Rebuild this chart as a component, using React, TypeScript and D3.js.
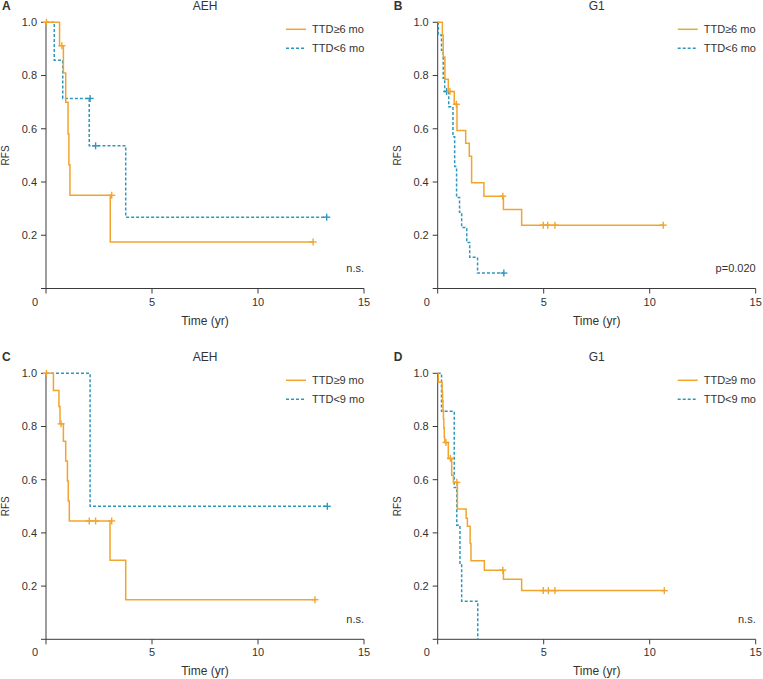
import React from "react";
import * as d3 from "d3";

// ---------- data ----------
const panelLetters = ["A", "B", "C", "D"];
const panelTitles = ["AEH", "G1", "AEH", "G1"];
const statTexts = ["n.s.", "p=0.020", "n.s.", "n.s."];
const legendLongA = "TTD≥6 mo";
const legendShortA = "TTD<6 mo";
const legendLongC = "TTD≥9 mo";
const legendShortC = "TTD<9 mo";
const xTicks = [0, 5, 10, 15];
const yTicks = [0, 0.2, 0.4, 0.6, 0.8, 1.0];

// Panel A
const aLongTimes = [0.64, 0.82, 0.93, 1.04, 1.08, 1.13, 3.03];
const aLongSurv = [0.912, 0.81, 0.7, 0.58, 0.465, 0.35, 0.175];
const aLongCensT = [0.02, 0.75, 3.1, 12.6];
const aLongCensS = [1.0, 0.912, 0.35, 0.175];
const aShortTimes = [0.39, 0.79, 2.04, 3.76];
const aShortSurv = [0.857, 0.714, 0.536, 0.268];
const aShortCensT = [2.08, 2.34, 13.24];
const aShortCensS = [0.714, 0.536, 0.268];

// Panel B
const bLongTimes = [0.22, 0.26, 0.34, 0.5, 0.78, 0.91, 1.32, 1.49, 1.6, 2.18, 3.1, 3.96];
const bLongSurv = [0.952, 0.87, 0.786, 0.74, 0.692, 0.594, 0.546, 0.497, 0.397, 0.347, 0.297, 0.238];
const bLongCensT = [0.58, 0.88, 3.07, 4.98, 5.19, 5.53, 10.64];
const bLongCensS = [0.74, 0.692, 0.347, 0.238, 0.238, 0.238, 0.238];
const bShortTimes = [0.03, 0.18, 0.26, 0.33, 0.52, 0.72, 0.8, 0.89, 1.03, 1.13, 1.37, 1.51, 1.88];
const bShortSurv = [0.952, 0.895, 0.79, 0.74, 0.683, 0.57, 0.458, 0.342, 0.286, 0.229, 0.173, 0.117, 0.058];
const bShortCensT = [0.42, 3.12];
const bShortCensS = [0.74, 0.058];

// Panel C
const cLongTimes = [0.35, 0.61, 0.66, 0.82, 0.93, 1.01, 1.05, 1.1, 3.02, 3.76];
const cLongSurv = [0.935, 0.875, 0.81, 0.745, 0.67, 0.595, 0.52, 0.445, 0.297, 0.149];
const cLongCensT = [0.02, 0.71, 2.04, 2.34, 3.1, 12.69];
const cLongCensS = [1.0, 0.81, 0.445, 0.445, 0.445, 0.149];
const cShortTimes = [2.08];
const cShortSurv = [0.5];
const cShortCensT = [13.27];
const cShortCensS = [0.5];

// Panel D
const dLongTimes = [0.03, 0.21, 0.23, 0.25, 0.27, 0.29, 0.31, 0.33, 0.5, 0.66, 0.74, 0.93, 1.34, 1.4, 1.53, 1.57, 2.2, 3.1, 3.96];
const dLongSurv = [0.966, 0.931, 0.897, 0.862, 0.828, 0.793, 0.759, 0.74, 0.68, 0.617, 0.59, 0.49, 0.455, 0.425, 0.36, 0.295, 0.26, 0.226, 0.183];
const dLongCensT = [0.39, 0.6, 0.9, 3.07, 4.98, 5.22, 5.53, 10.69];
const dLongCensS = [0.74, 0.68, 0.59, 0.26, 0.183, 0.183, 0.183, 0.183];
const dShortTimes = [0.18, 0.78, 0.9, 1.05, 1.13, 1.89];
const dShortSurv = [0.857, 0.571, 0.429, 0.286, 0.143, 0];
const dShortCensT: number[] = [];
const dShortCensS: number[] = [];

// ---------- styling / layout ----------
const ORANGE = "#F2A52E";
const BLUE = "#2F97BE";
const AXIS = "#3a3a3a";
const TEXT = "#333";
const FONT = "'Liberation Sans', Arial, Helvetica, sans-serif";

type Series = { times: number[]; surv: number[]; censT: number[]; censS: number[] };

const panels = [
  {
    left: 46, right: 364, top: 22.3, bottom: 288.5,
    long: { times: aLongTimes, surv: aLongSurv, censT: aLongCensT, censS: aLongCensS },
    short: { times: aShortTimes, surv: aShortSurv, censT: aShortCensT, censS: aShortCensS },
    legend: [legendLongA, legendShortA],
  },
  {
    left: 437.7, right: 755.7, top: 22.3, bottom: 288.5,
    long: { times: bLongTimes, surv: bLongSurv, censT: bLongCensT, censS: bLongCensS },
    short: { times: bShortTimes, surv: bShortSurv, censT: bShortCensT, censS: bShortCensS },
    legend: [legendLongA, legendShortA],
  },
  {
    left: 46, right: 364, top: 373.3, bottom: 639.3,
    long: { times: cLongTimes, surv: cLongSurv, censT: cLongCensT, censS: cLongCensS },
    short: { times: cShortTimes, surv: cShortSurv, censT: cShortCensT, censS: cShortCensS },
    legend: [legendLongC, legendShortC],
  },
  {
    left: 437.7, right: 755.7, top: 373.3, bottom: 639.3,
    long: { times: dLongTimes, surv: dLongSurv, censT: dLongCensT, censS: dLongCensS },
    short: { times: dShortTimes, surv: dShortSurv, censT: dShortCensT, censS: dShortCensS },
    legend: [legendLongC, legendShortC],
  },
];

function stepPoints(s: Series): [number, number][] {
  const pts: [number, number][] = [[0, 1]];
  s.times.forEach((t, i) => pts.push([t, s.surv[i]]));
  const lastT = Math.max(s.times[s.times.length - 1], ...(s.censT.length ? s.censT : [0]));
  pts.push([lastT, s.surv[s.surv.length - 1]]);
  return pts;
}

function Curve({ s, x, y, color, dashed }: { s: Series; x: any; y: any; color: string; dashed: boolean }) {
  const line = d3
    .line<[number, number]>()
    .x((d) => x(d[0]))
    .y((d) => y(d[1]))
    .curve(d3.curveStepAfter);
  const d = line(stepPoints(s)) || "";
  return (
    <g>
      <path d={d} fill="none" stroke={color} strokeWidth={1.5} strokeDasharray={dashed ? "3,2" : undefined} />
      {s.censT.map((t, i) => (
        <g key={i} stroke={color} strokeWidth={1.4}>
          <line x1={x(t)} x2={x(t)} y1={y(s.censS[i]) - 3.5} y2={y(s.censS[i]) + 3.5} />
          <line x1={x(t) - 3.5} x2={x(t) + 3.5} y1={y(s.censS[i])} y2={y(s.censS[i])} />
        </g>
      ))}
    </g>
  );
}

function Panel({ idx }: { idx: number }) {
  const p = panels[idx];
  const x = d3.scaleLinear().domain([0, 15]).range([p.left, p.right]);
  const y = d3.scaleLinear().domain([0, 1]).range([p.bottom, p.top]);
  const cx = (p.left + p.right) / 2;
  return (
    <g fontFamily={FONT} fill={TEXT}>
      {/* letter + title */}
      <text x={p.left - 44} y={p.top - 12.5} fontSize={12} fontWeight="bold">{panelLetters[idx]}</text>
      <text x={cx} y={p.top - 12.5} fontSize={12} textAnchor="middle">{panelTitles[idx]}</text>
      {/* axes */}
      <line x1={p.left} x2={p.left} y1={y(1)} y2={y(0)} stroke={AXIS} strokeWidth={1} />
      <line x1={p.left} x2={x(15)} y1={y(0)} y2={y(0)} stroke={AXIS} strokeWidth={1} />
      {yTicks.map((v) => (
        <g key={v}>
          <line x1={p.left - 5} x2={p.left} y1={y(v)} y2={y(v)} stroke={AXIS} />
          {v > 0 && (
            <text x={p.left - 9} y={y(v)} dy="0.35em" fontSize={11} textAnchor="end">{v.toFixed(1)}</text>
          )}
        </g>
      ))}
      {xTicks.map((v) => (
        <g key={v}>
          <line x1={x(v)} x2={x(v)} y1={y(0)} y2={y(0) + 5} stroke={AXIS} />
          <text x={v === 0 ? x(v) - 11 : x(v)} y={y(0) + 17} fontSize={11} textAnchor="middle">{v}</text>
        </g>
      ))}
      <text x={cx} y={y(0) + 36} fontSize={12} textAnchor="middle">Time (yr)</text>
      <text transform={`translate(${p.left - 37},${(p.top + p.bottom) / 2}) rotate(-90)`} fontSize={10} textAnchor="middle">RFS</text>
      {/* stat */}
      <text x={p.right} y={p.bottom - 16.5} fontSize={11} textAnchor="end">{statTexts[idx]}</text>
      {/* legend */}
      <line x1={p.right - 78} x2={p.right - 58} y1={p.top + 7} y2={p.top + 7} stroke={ORANGE} strokeWidth={1.5} />
      <text x={p.right - 52} y={p.top + 7} dy="0.35em" fontSize={11}>{p.legend[0]}</text>
      <line x1={p.right - 78} x2={p.right - 58} y1={p.top + 26} y2={p.top + 26} stroke={BLUE} strokeWidth={1.5} strokeDasharray="3,2" />
      <text x={p.right - 52} y={p.top + 26} dy="0.35em" fontSize={11}>{p.legend[1]}</text>
      {/* curves */}
      <Curve s={p.short} x={x} y={y} color={BLUE} dashed={true} />
      <Curve s={p.long} x={x} y={y} color={ORANGE} dashed={false} />
    </g>
  );
}

export default function App() {
  return (
    <svg
      width={763}
      height={679}
      viewBox="0 0 763 679"
      style={{ position: "absolute", left: 0, top: 0, background: "#fff" }}
    >
      {panels.map((_, i) => (
        <Panel key={i} idx={i} />
      ))}
    </svg>
  );
}
